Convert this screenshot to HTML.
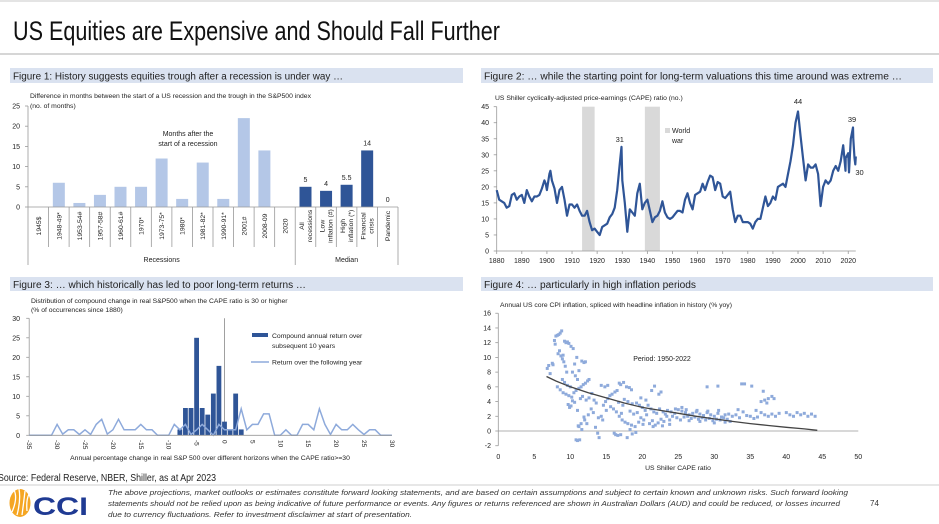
<!DOCTYPE html>
<html><head><meta charset="utf-8"><style>
html,body{margin:0;padding:0;background:#fff;}
svg{display:block;font-family:"Liberation Sans",sans-serif;}
</style></head><body>
<svg id="root" width="939" height="524" viewBox="0 0 939 524" xmlns="http://www.w3.org/2000/svg">
<rect x="0" y="0" width="939" height="524" fill="#fff"/>
<line x1="0" y1="1" x2="939" y2="1" stroke="#e4e4e4" stroke-width="2"/>
<text x="13" y="40" font-size="27" fill="#111" textLength="487" lengthAdjust="spacingAndGlyphs">US Equities are Expensive and Should Fall Further</text>
<line x1="0" y1="54" x2="939" y2="54" stroke="#c8c8c8" stroke-width="1.5"/>

<g>
<rect x="10" y="68" width="453" height="15" fill="#dae2f0"/>
<text x="13" y="79.5" font-size="10" fill="#222" textLength="330" lengthAdjust="spacingAndGlyphs">Figure 1: History suggests equities trough after a recession is under way …</text></g>
<g>
<rect x="481" y="68" width="452" height="15" fill="#dae2f0"/>
<text x="484" y="79.5" font-size="10" fill="#222" textLength="418" lengthAdjust="spacingAndGlyphs">Figure 2: … while the starting point for long-term valuations this time around was extreme …</text></g>
<g>
<rect x="10" y="277" width="453" height="14" fill="#dae2f0"/>
<text x="13" y="288" font-size="10" fill="#222" textLength="293" lengthAdjust="spacingAndGlyphs">Figure 3: … which historically has led to poor long-term returns …</text></g>
<g>
<rect x="481" y="277" width="452" height="14" fill="#dae2f0"/>
<text x="484" y="288" font-size="10" fill="#222" textLength="212" lengthAdjust="spacingAndGlyphs">Figure 4: … particularly in high inflation periods</text></g>

<g id="f1"></g>
<g id="f2"></g>
<g id="f3"></g>
<g id="f4"></g>

<text x="-2" y="481" font-size="10" fill="#222" textLength="218" lengthAdjust="spacingAndGlyphs">Source: Federal Reserve, NBER, Shiller, as at Apr 2023</text>
<line x1="0" y1="485" x2="939" y2="485" stroke="#cfcfcf" stroke-width="1"/>
<g>
<ellipse cx="20" cy="503" rx="10.5" ry="14" fill="#f5a623"/>
<path d="M12 512 Q18 498 14 490 M17 515 Q21 500 19 489 M22 515 Q24 500 25 491 M27 511 Q26 500 29 494" stroke="#fff" stroke-width="1.3" fill="none"/>
<text x="33" y="515" font-size="25" font-weight="bold" fill="#1f3a93" textLength="55" lengthAdjust="spacingAndGlyphs">CCI</text>
</g>
<g font-size="7.6" font-style="italic" fill="#333">
<text x="108" y="495" textLength="740" lengthAdjust="spacingAndGlyphs">The above projections, market outlooks or estimates constitute forward looking statements, and are based on certain assumptions and subject to certain known and unknown risks. Such forward looking</text>
<text x="108" y="506" textLength="732" lengthAdjust="spacingAndGlyphs">statements should not be relied upon as being indicative of future performance or events. Any figures or returns referenced are shown in Australian Dollars (AUD) and could be reduced, or losses incurred</text>
<text x="108" y="517" textLength="304" lengthAdjust="spacingAndGlyphs">due to currency fluctuations. Refer to investment disclaimer at start of presentation.</text>
</g>
<text x="870" y="506" font-size="8" fill="#333">74</text>
</svg>
<script>
// ---------- Figure 1 data ----------
const f1Categories = ["1945$","1948-49*","1953-54#","1957-58#","1960-61#","1970*","1973-75*","1980*","1981-82*","1990-91*","2001#","2008-09","2020","All|recessions","Low|inflation (#)","High|inflation (*)","Financial|crisis","Pandemic"];
const f1Values = [0,6,1,3,5,5,12,2,11,2,22,14,0,5,4,5.5,14,0];
const f1Labels = ["","","","","","","","","","","","","","5","4","5.5","14","0"];
const f1YTicks = [0,5,10,15,20,25];
// ---------- Figure 2 data ----------
const capeYears = [1880,1881,1882,1883,1884,1885,1886,1887,1888,1889,1890,1891,1892,1893,1894,1895,1896,1897,1898,1899,1899.5,1900,1901,1901.4,1902,1903,1904,1905,1906,1907,1908,1909,1910,1911,1912,1913,1914,1915,1916,1917,1918,1919,1920,1921,1922,1923,1924,1925,1926,1927,1928,1929,1929.7,1930,1931,1932,1932.4,1933,1934,1935,1936,1937,1938,1939,1940,1941,1942,1943,1944,1945,1946,1947,1948,1949,1950,1951,1952,1953,1954,1955,1956,1957,1958,1959,1960,1961,1962,1963,1964,1965,1966,1967,1968,1969,1970,1971,1972,1973,1974,1975,1976,1977,1978,1979,1980,1981,1982,1983,1984,1985,1986,1987,1988,1989,1990,1991,1992,1993,1994,1995,1996,1997,1998,1999,2000,2001,2002,2003,2004,2005,2006,2007,2008,2009,2010,2011,2012,2013,2014,2015,2016,2017,2018,2018.9,2019,2020,2020.3,2021,2021.9,2022,2022.5,2022.8,2023];
const capeValues = [19,16,15.5,15,13.5,14,17.5,18,16,17,17.5,15,19,17,15.5,17,17,17.5,19.5,22,21,19,24,25,22,19.5,15,19,20,16,11,14.5,14.5,13.5,14.5,12.5,11,11,12.5,9,6.5,7,6,5,7.5,8,8.5,10.5,11.5,13.5,19,27,32.5,22,15,6,9,13,12,11,18,21,13,15,16,12.5,9,10.5,11,12.5,15.5,12,10.5,10,10.5,11.5,12.5,12.5,12,16,18,15,13,17.5,18,18.5,21,19,21.5,23.5,23,19,21.5,21,17,16.5,17.5,18.5,13,9,11,11,9,9,9,8.5,7,9,10,10,13.5,17,14,15,17,16,20,20.5,21,20,24,28,33,40,43.5,36,29,22,27,26,26,27,24,14,20,22,21,22,25,26.5,25,28,33,25,29,30.5,24.5,35,38.5,35,29,27,29.5];
const warStart = [1914,1939];
const warEnd = [1919,1945];
const f2YTicks = [0,5,10,15,20,25,30,35,40,45];
const f2XTicks = [1880,1890,1900,1910,1920,1930,1940,1950,1960,1970,1980,1990,2000,2010,2020];
// ---------- Figure 3 data ----------
const f3BarBins = [-8,-7,-6,-5,-4,-3,-2,-1,0,1,2,3];
const f3BarValues = [1.5,7,7,25,7,5.3,10.7,17.8,3.5,1.5,10.7,1.5];
const f3LineBins = [-35,-34,-33,-32,-31,-30,-29,-28,-27,-26,-25,-24,-23,-22,-21,-20,-19,-18,-17,-16,-15,-14,-13,-12,-11,-10,-9,-8,-7,-6,-5,-4,-3,-2,-1,0,1,2,3,4,5,6,7,8,9,10,11,12,13,14,15,16,17,18,19,20,21,22,23,24,25,26,27,28,29,30];
const f3LineValues = [0,0,0,0,0,2.8,0.3,1.4,1.4,0.2,1.4,0.2,2.8,4.1,0.3,1.4,4.1,1.4,1.4,1.4,2.8,1.4,1.4,0,0,0,2.8,1.4,2.8,0.2,1.4,2.8,1.4,0,2.8,1.4,1.4,1.4,6.8,1.4,2.8,2.8,5.5,5.5,0,0,1.4,0,0,2.8,2.8,1.4,6.8,2.8,0.2,2.8,1.4,1.4,2.8,1.4,0.2,1.4,1.4,0,0,0];
const f3XTicks = [-35,-30,-25,-20,-15,-10,-5,0,5,10,15,20,25,30];
const f3YTicks = [0,5,10,15,20,25,30];
// ---------- Figure 4 data ----------
const f4Cape = [6.8,7,7.2,7.5,7.6,7.8,7.9,8,8.2,8.4,8.6,8.8,8.3,8.5,8.7,8.9,9,9.2,9.4,9.6,9.8,10.1,10.4,9.1,9.3,9.5,8.9,9.2,9.6,10,8.2,8.6,9,9.4,9.8,10.2,10.5,10.8,11.2,11.5,11.8,12.1,12.4,12.6,11.6,11.9,12.1,11.2,10.7,10.3,11,10.9,10.6,9.7,9.9,10.1,10.3,10.6,11,11.4,11.7,12.2,12.6,13,13.3,13.6,12.9,13.2,12.5,12,11.5,11.1,11.6,11.9,12.3,10.8,11,11.3,11.2,14,13.8,13.5,14.3,14.6,14.9,15.2,15.5,15.8,16.2,16.5,16.8,17,17.4,17.8,18.2,18.5,15.2,14.8,14.3,16,16.4,16.8,17.2,17.6,18,18.5,19,16.3,16.6,17,16.1,17.9,18.6,19.1,18.3,19.5,19.8,20.2,20.6,21,21.4,21.8,22.2,22.6,23,23.4,23.8,19.2,19.6,20,20.4,20.8,21.2,21.6,22,22.4,19.8,20.5,21.3,21.7,22.3,22.6,17.5,18,18.6,17.3,16.7,15.6,15,14.5,13.9,18.8,18.3,17.1,19.3,23.5,24,24.5,25,25.5,26,26.5,27,27.5,28,28.5,29,29.5,30,30.5,31,31.5,32,24.2,24.8,25.3,25.8,26.3,26.8,27.3,27.8,28.3,28.8,29.3,29.8,30.3,30.8,31.3,31.8,23.2,22.9,24.6,26.1,27.6,29.1,30.6,32.5,33,33.5,34,34.5,35,35.5,36,36.5,37,37.5,38,38.5,39,40.5,41,41.5,42,42.5,43,43.5,44,40,29,30.5,33.8,34.2,35.2,36.8,36.5,37,37.5,38,38.3,37.3,35.8,33.3,32.2,31.5,30,28,26.5,23.8,22.8,21.5,20.1,25.5];
const f4Infl = [8.5,8.9,7.8,9.2,9,12.3,11.8,12.9,13,13.1,13.3,13.6,10.5,10.9,10.2,9.8,10.3,12.2,12,12.1,11.9,11.5,11.2,9.4,8.8,8,7,6.6,6.2,6,6,5.6,5.2,5,4.8,4.6,5.2,5.5,5.8,6,6.3,6.5,6.8,7,9.5,9.3,9.4,8.2,7.5,8,7,10,9.1,3.6,3.2,3.4,4.1,3.9,2.8,4.4,4.7,4.2,4.5,5.1,4.2,3.8,3,2.5,2.2,1.5,1,0.7,0.2,1.9,1,-1.2,-1.3,-1.2,0.6,-0.9,-0.3,0.5,2,3.5,4,4.4,4.8,5,5.3,5.5,6.5,6.3,6.6,6,5.9,5.6,6.2,6,6.2,3,2.6,2,1.5,1.2,1,0.8,0.6,-0.5,-0.6,-0.5,-0.3,-0.9,-0.4,-0.2,0.2,1.2,1.8,1.5,2.2,1,1.4,0.8,1.1,1.6,1.3,2,1.5,3.8,3.5,3.2,2.8,3.5,3,2.6,2.4,3,4.5,4.2,5.5,6.1,5,5.3,4.3,4,3.7,3.5,3.9,3.3,2.8,1.5,1.8,2.3,2.7,2.4,2.5,2.8,2.6,2.4,2.9,2.7,2.5,2.2,2.4,2.6,2.3,2.1,2.5,2.2,2,2.4,1.9,2.2,2.3,2,1.8,1.5,1.9,2,1.7,1.9,1.6,1.8,1.5,1.7,1.4,1.6,1.5,1.8,1.6,2.3,2.6,3,2.9,2.8,2.7,2.8,2,2.2,1.8,2.6,2.1,2,1.7,1.9,2.5,2.2,2,2.3,2,2.4,2.2,2,2.5,2.2,2.4,2,2.3,2,2.5,6,6.1,6.4,6.4,6.1,5.4,4,4.2,4.4,4.7,4.4,3.8,2.8,2.9,1.3,1.2,1.1,1.3,1.4,0.9,0.7,0.6,0.9,3.2];
const f4TrendX = [6.7,8,10,12.5,15,17.5,20,22.5,25,27.5,30,32.5,35,37.5,40,42.5,44.3];
const f4TrendY = [7.4,6.8,6.0,5.2,4.5,3.8,3.2,2.8,2.4,2.0,1.65,1.3,1.0,0.75,0.5,0.28,0.1];
const f4XTicks = [0,5,10,15,20,25,30,35,40,45,50];
const f4YTicks = [-2,0,2,4,6,8,10,12,14,16];

const NS = "http://www.w3.org/2000/svg";
function mk(parent, tag, attrs, txt) {
  const e = document.createElementNS(NS, tag);
  for (const k in attrs) e.setAttribute(k, attrs[k]);
  if (txt !== undefined) e.textContent = txt;
  parent.appendChild(e);
  return e;
}

// ===== Figure 1 =====
(function(){
  const g = document.getElementById('f1');
  const x0 = 28, x1 = 398, yBase = 207, pxPerUnit = 4.04;
  const y = v => yBase - v * pxPerUnit;
  const cw = (x1 - x0) / f1Categories.length;
  const xc = i => x0 + cw * (i + 0.5);
  const t1 = mk(g, 'text', {x: 30, y: 98, 'font-size': 6.8, fill: '#222'}, 'Difference in months between the start of a US recession and the trough in the S&P500 index');
  
  
  mk(g, 'text', {x: 30, y: 108, 'font-size': 6.8, fill: '#222'}, '(no. of months)');
  mk(g, 'line', {x1: x0, y1: y(25), x2: x0, y2: yBase, stroke: '#999', 'stroke-width': 0.8});
  f1YTicks.forEach(v => {
    const t = mk(g, 'text', {x: 20, y: y(v) + 2.5, 'font-size': 7, 'text-anchor': 'end', fill: '#222'}, v);
    
    
    mk(g, 'line', {x1: x0 - 3, y1: y(v), x2: x0, y2: y(v), stroke: '#999', 'stroke-width': 0.8});
  });
  f1Values.forEach((v, i) => {
    const dark = i >= 13;
    const r = mk(g, 'rect', {x: xc(i) - 6, y: y(v), width: 12, height: v * pxPerUnit, fill: dark ? '#2f5597' : '#b4c7e7'});
    
    
    if (f1Labels[i] !== '') mk(g, 'text', {x: xc(i), y: y(v) - 5, 'font-size': 7, 'text-anchor': 'middle', fill: '#222'}, f1Labels[i]);
  });
  mk(g, 'line', {x1: x0, y1: yBase, x2: x1, y2: yBase, stroke: '#999', 'stroke-width': 0.8});
  for (let i = 0; i <= f1Categories.length; i++) {
    const xx = x0 + cw * i;
    const long = (i === 0 || i === 13 || i === f1Categories.length);
    mk(g, 'line', {x1: xx, y1: yBase, x2: xx, y2: long ? 265 : 247, stroke: '#999', 'stroke-width': 0.8});
  }
  f1Categories.forEach((c, i) => {
    const parts = c.split('|');
    parts.forEach((p, j) => {
      const off = (j - (parts.length - 1) / 2) * 8;
      const xx = xc(i) + off + 2.5;
      const t = mk(g, 'text', {x: xx, y: 226, 'font-size': 6.8, 'text-anchor': 'middle', fill: '#222', transform: `rotate(-90 ${xx} 226)`}, p);
      
      
    });
  });
  mk(g, 'text', {x: (x0 + x0 + cw * 13) / 2, y: 262, 'font-size': 7, 'text-anchor': 'middle', fill: '#222'}, 'Recessions');
  mk(g, 'text', {x: (x0 + cw * 13 + x1) / 2, y: 262, 'font-size': 7, 'text-anchor': 'middle', fill: '#222'}, 'Median');
  mk(g, 'text', {x: 188, y: 136, 'font-size': 7, 'text-anchor': 'middle', fill: '#222'}, 'Months after the');
  mk(g, 'text', {x: 188, y: 146, 'font-size': 7, 'text-anchor': 'middle', fill: '#222'}, 'start of a recession');
})();

// ===== Figure 2 =====
(function(){
  const g = document.getElementById('f2');
  const X = yr => 496.7 + (yr - 1880) * 2.511;
  const Y = v => 251 - v * 3.207;
  const t = mk(g, 'text', {x: 495, y: 100, 'font-size': 6.8, fill: '#222'}, 'US Shiller cyclically-adjusted price-earnings (CAPE) ratio (no.)');
  
  
  warStart.forEach((s, i) => {
    const r = mk(g, 'rect', {x: X(s), y: Y(45), width: X(warEnd[i]) - X(s), height: Y(0) - Y(45), fill: '#d9d9d9'});
    
    
  });
  mk(g, 'line', {x1: X(1880), y1: Y(0), x2: X(1880), y2: Y(45), stroke: '#999', 'stroke-width': 0.8});
  mk(g, 'line', {x1: X(1880), y1: Y(0), x2: X(2023), y2: Y(0), stroke: '#999', 'stroke-width': 0.8});
  f2YTicks.forEach(v => {
    mk(g, 'text', {x: 489, y: Y(v) + 2.5, 'font-size': 7, 'text-anchor': 'end', fill: '#222'}, v);
    mk(g, 'line', {x1: X(1880) - 3, y1: Y(v), x2: X(1880), y2: Y(v), stroke: '#999', 'stroke-width': 0.8});
  });
  f2XTicks.forEach(v => {
    mk(g, 'text', {x: X(v), y: 263, 'font-size': 7, 'text-anchor': 'middle', fill: '#222'}, v);
    mk(g, 'line', {x1: X(v), y1: Y(0), x2: X(v), y2: Y(0) + 3, stroke: '#999', 'stroke-width': 0.8});
  });
  const pts = capeYears.map((yr, i) => X(yr).toFixed(1) + ',' + Y(capeValues[i]).toFixed(1)).join(' ');
  const pl = mk(g, 'polyline', {points: pts, fill: 'none', stroke: '#2f5597', 'stroke-width': 2.2, 'stroke-linejoin': 'round'});
  
  
  mk(g, 'text', {x: X(1929), y: 142, 'font-size': 7.5, 'text-anchor': 'middle', fill: '#222'}, '31');
  mk(g, 'text', {x: X(2000), y: 104, 'font-size': 7.5, 'text-anchor': 'middle', fill: '#222'}, '44');
  mk(g, 'text', {x: X(2021.5), y: 122, 'font-size': 7.5, 'text-anchor': 'middle', fill: '#222'}, '39');
  mk(g, 'text', {x: X(2024.5), y: 175, 'font-size': 7.5, 'text-anchor': 'middle', fill: '#222'}, '30');
  const lg = mk(g, 'rect', {x: 665, y: 128, width: 5, height: 5, fill: '#d9d9d9'});
  
  
  mk(g, 'text', {x: 672, y: 133, 'font-size': 7, fill: '#222'}, 'World');
  mk(g, 'text', {x: 672, y: 143, 'font-size': 7, fill: '#222'}, 'war');
})();

// ===== Figure 3 =====
(function(){
  const g = document.getElementById('f3');
  const X = v => 224.5 + v * 5.58;
  const Y = v => 435.3 - v * 3.9;
  const t = mk(g, 'text', {x: 31, y: 303, 'font-size': 6.8, fill: '#222'}, 'Distribution of compound change in real S&P500 when the CAPE ratio is 30 or higher');
  
  
  mk(g, 'text', {x: 31, y: 312, 'font-size': 6.8, fill: '#222'}, '(% of occurrences since 1880)');
  mk(g, 'line', {x1: X(-35), y1: Y(0), x2: X(-35), y2: Y(30), stroke: '#999', 'stroke-width': 0.8});
  mk(g, 'line', {x1: X(0), y1: Y(0), x2: X(0), y2: Y(30), stroke: '#888', 'stroke-width': 0.8});
  f3YTicks.forEach(v => {
    mk(g, 'text', {x: 20, y: Y(v) + 2.5, 'font-size': 7, 'text-anchor': 'end', fill: '#222'}, v);
    mk(g, 'line', {x1: X(-35) - 3, y1: Y(v), x2: X(-35), y2: Y(v), stroke: '#999', 'stroke-width': 0.8});
  });
  f3BarValues.forEach((v, i) => {
    const r = mk(g, 'rect', {x: X(f3BarBins[i]) - 2.4, y: Y(v), width: 4.8, height: v * 3.9, fill: '#2f5597'});
    
    
  });
  const pts = f3LineBins.map((b, i) => X(b).toFixed(1) + ',' + Y(f3LineValues[i]).toFixed(1)).join(' ');
  const pl = mk(g, 'polyline', {points: pts, fill: 'none', stroke: '#8eaadb', 'stroke-width': 1.5});
  
  
  mk(g, 'line', {x1: X(-35), y1: Y(0), x2: X(30), y2: Y(0), stroke: '#999', 'stroke-width': 0.8});
  f3XTicks.forEach(v => {
    const xx = X(v) - 2;
    mk(g, 'text', {x: xx, y: 440, 'font-size': 6.5, fill: '#222', transform: `rotate(90 ${xx} 440)`}, v);
  });
  mk(g, 'text', {x: 210, y: 460, 'font-size': 6.8, 'text-anchor': 'middle', fill: '#222'}, 'Annual percentage change in real S&P 500 over different horizons when the CAPE  ratio>=30');
  const l1 = mk(g, 'rect', {x: 252, y: 333, width: 16, height: 4, fill: '#2f5597'});
  
  
  mk(g, 'text', {x: 272, y: 338, 'font-size': 6.8, fill: '#222'}, 'Compound annual return over');
  mk(g, 'text', {x: 272, y: 348, 'font-size': 6.8, fill: '#222'}, 'subsequent 10 years');
  const l2 = mk(g, 'line', {x1: 251, y1: 362, x2: 269, y2: 362, stroke: '#8eaadb', 'stroke-width': 1.5});
  
  
  mk(g, 'text', {x: 272, y: 364.5, 'font-size': 6.8, fill: '#222'}, 'Return over the following year');
})();

// ===== Figure 4 =====
(function(){
  const g = document.getElementById('f4');
  const X = v => 498.3 + v * 7.2;
  const Y = v => 431 - v * 7.36;
  const t = mk(g, 'text', {x: 500, y: 307, 'font-size': 6.8, fill: '#222'}, 'Annual US core CPI inflation, spliced with headline inflation in history (% yoy)');
  
  
  mk(g, 'line', {x1: X(0), y1: Y(-2), x2: X(0), y2: Y(16), stroke: '#999', 'stroke-width': 0.8});
  mk(g, 'line', {x1: X(0), y1: Y(0), x2: X(50), y2: Y(0), stroke: '#999', 'stroke-width': 0.8});
  f4YTicks.forEach(v => {
    mk(g, 'text', {x: 491, y: Y(v) + 2.5, 'font-size': 7, 'text-anchor': 'end', fill: '#222'}, v);
    mk(g, 'line', {x1: X(0) - 3, y1: Y(v), x2: X(0), y2: Y(v), stroke: '#999', 'stroke-width': 0.8});
  });
  f4XTicks.forEach(v => {
    mk(g, 'text', {x: X(v), y: 459, 'font-size': 7, 'text-anchor': 'middle', fill: '#222'}, v);
  });
  f4Cape.forEach((c, i) => {
    const d = mk(g, 'rect', {x: X(c) - 1.5, y: Y(f4Infl[i]) - 1.5, width: 3, height: 3, fill: '#8eaadb'});
    
    
  });
  const pts = f4TrendX.map((x, i) => X(x).toFixed(1) + ',' + Y(f4TrendY[i]).toFixed(1)).join(' ');
  const tl = mk(g, 'polyline', {points: pts, fill: 'none', stroke: '#444', 'stroke-width': 1.3});
  
  
  mk(g, 'text', {x: 662, y: 361, 'font-size': 7, 'text-anchor': 'middle', fill: '#222'}, 'Period: 1950-2022');
  mk(g, 'text', {x: 678, y: 470, 'font-size': 6.8, 'text-anchor': 'middle', fill: '#222'}, 'US Shiller CAPE ratio');
})();
</script>
</body></html>
